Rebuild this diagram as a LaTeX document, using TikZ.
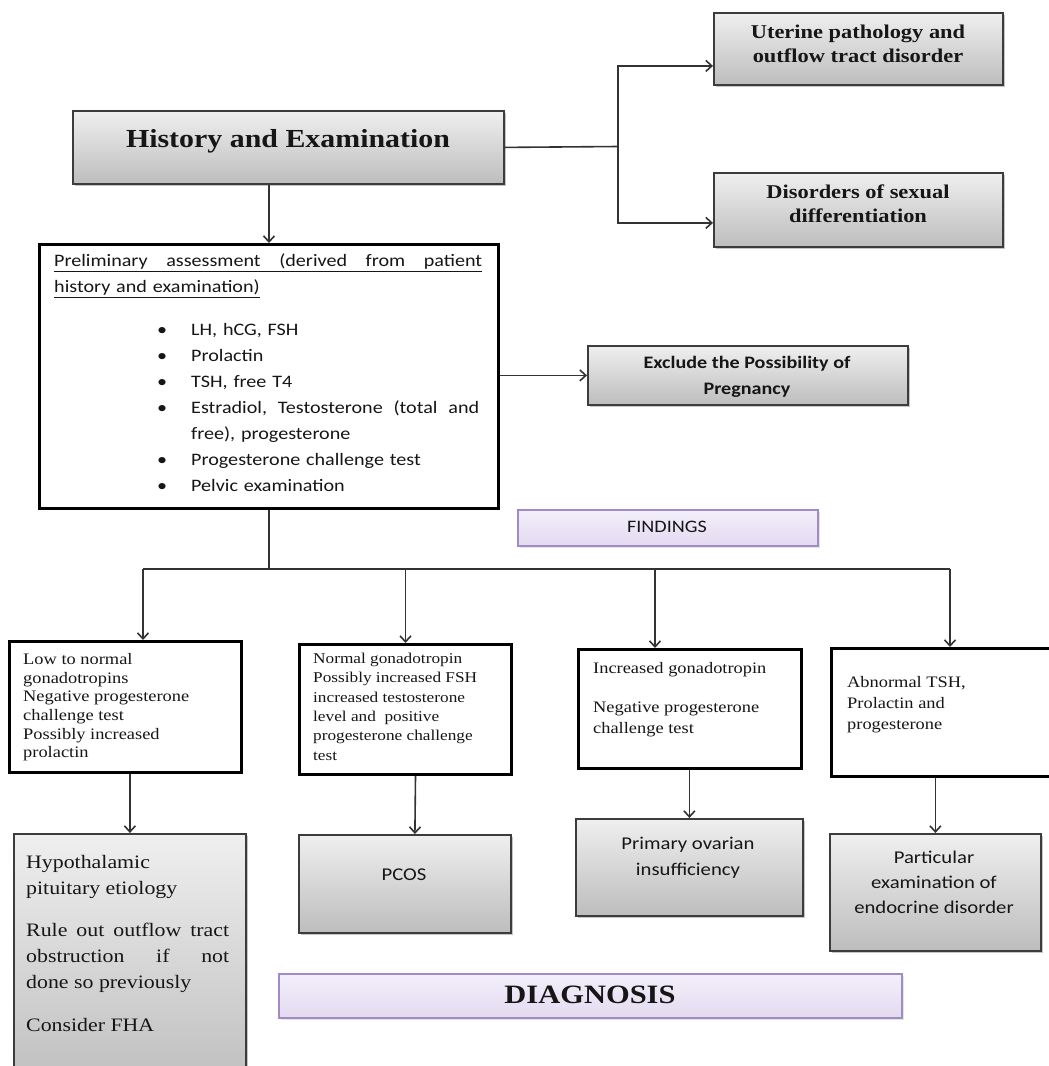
\documentclass[tikz,border=0pt]{standalone}
\usepackage{fontspec}
\setmainfont{Liberation Serif}[FakeStretch=1.15]
\newfontfamily\calfont{Carlito}[FakeStretch=1.15]
\usetikzlibrary{arrows.meta,shadows}
\definecolor{bordgray}{HTML}{3C3C3C}
\definecolor{gtop}{HTML}{EFEFEF}
\definecolor{gbot}{HTML}{BDBDBD}
\definecolor{lavtop}{HTML}{F3EFFA}
\definecolor{lavbot}{HTML}{E3D9F0}
\definecolor{lavbord}{HTML}{A08BC6}
\definecolor{connc}{HTML}{333333}
\definecolor{ink}{HTML}{161616}
\newcommand\myul[1]{\leavevmode\setbox0\hbox{#1}\rlap{\rule[-5.5pt]{\wd0}{1.3pt}}\box0}
\newcommand\bul{\leavevmode\llap{\textbullet\hspace{24pt}}}
\begin{document}
\begin{tikzpicture}[x=1pt,y=-1pt,
  boxbase/.style={anchor=north west, inner sep=0pt},
  gbox/.style={boxbase, draw=bordgray, line width=1.8pt, top color=gtop, bottom color=gbot,
    drop shadow={shadow xshift=2.5pt, shadow yshift=-2.5pt, fill=black!45}},
  wbox/.style={boxbase, draw=black, line width=3pt, fill=white},
  lbox/.style={boxbase, draw=lavbord, line width=2pt, top color=lavtop, bottom color=lavbot,
    drop shadow={shadow xshift=2pt, shadow yshift=-2pt, fill=black!20}},
  txt/.style={inner sep=0pt, text=ink},
  ln/.style={draw=connc, line width=1.6pt},
  ar/.style={ln, -{Straight Barb[length=6pt,width=11pt]}}]
\useasboundingbox (0,0) rectangle (1049,1066);
\clip (0,0) rectangle (1049,1066);
\fill[white] (0,0) rectangle (1049,1066);

% boxes
\node[gbox, minimum width=431pt, minimum height=73pt] (hist) at (72,110) {};
\node[gbox, minimum width=289pt, minimum height=72pt] (uter) at (713,12) {};
\node[gbox, minimum width=289pt, minimum height=74pt] (dis) at (713,172) {};
\node[wbox, minimum width=459pt, minimum height=264pt] (prelim) at (38,243) {};
\node[gbox, minimum width=320pt, minimum height=59pt] (excl) at (587,345) {};
\node[lbox, minimum width=300pt, minimum height=36pt] (find) at (517,509) {};
\node[wbox, minimum width=232pt, minimum height=131pt] (l1) at (8,640) {};
\node[wbox, minimum width=212pt, minimum height=130pt] (l2) at (298,643) {};
\node[wbox, minimum width=223pt, minimum height=119pt] (l3) at (577,648) {};
\node[wbox, minimum width=240pt, minimum height=128pt] (l4) at (830,647) {};
\node[gbox, minimum width=232pt, minimum height=260pt] (d1) at (13,833) {};
\node[gbox, minimum width=212pt, minimum height=98pt] (d2) at (298,834) {};
\node[gbox, minimum width=227pt, minimum height=97pt] (d3) at (575,818) {};
\node[gbox, minimum width=211pt, minimum height=117pt] (d4) at (829,833) {};
\node[lbox, minimum width=623pt, minimum height=44pt] (diag) at (278,973) {};

% texts
\node[txt, font=\bfseries\fontsize{26}{30}\selectfont] (histt) at (288,141) {History and Examination};
\node[txt, align=center, font=\bfseries\fontsize{19.5}{24}\selectfont] (utert) at (858,44) {Uterine pathology and\\outflow tract disorder};
\node[txt, align=center, font=\bfseries\fontsize{19.5}{24}\selectfont] (dist) at (858,204) {Disorders of sexual\\differentiation};
\node[txt, anchor=north west, text width=428pt, align=left, font=\calfont\fontsize{17.5}{26}\selectfont] (pret) at (54,254)
  {\myul{\hbox to 428pt{Preliminary\hfill assessment\hfill (derived\hfill from\hfill patient}}\\\myul{history and examination)}};
\node[txt, anchor=north west, text width=300pt, align=left, font=\calfont\fontsize{17.5}{26}\selectfont] (plist) at (191,323)
  {\bul LH, hCG, FSH\\\bul Prolactin\\\bul TSH, free T4\\\bul \hbox to 288pt{Estradiol,\hfill Testosterone\hfill (total\hfill and}\\free), progesterone\\\bul Progesterone challenge test\\\bul Pelvic examination};
\node[txt, align=center, font=\calfont\bfseries\fontsize{17.5}{26}\selectfont] (exclt) at (747,377) {Exclude the Possibility of\\Pregnancy};
\node[txt, font=\calfont\fontsize{17.5}{20}\selectfont] (findt) at (667,527) {FINDINGS};
\node[txt, anchor=north west, align=left, font=\fontsize{16}{18.7}\selectfont] (l1t) at (23,653)
  {Low to normal\\gonadotropins\\Negative progesterone\\challenge test\\Possibly increased\\prolactin};
\node[txt, anchor=north west, align=left, font=\fontsize{15}{19.3}\selectfont] (l2t) at (313,653)
  {Normal gonadotropin\\Possibly increased FSH\\increased testosterone\\level and~ positive\\progesterone challenge\\test};
\node[txt, anchor=north west, align=left, font=\fontsize{16}{21}\selectfont] (l3t) at (593,662)
  {Increased gonadotropin\\[18pt]Negative progesterone\\challenge test};
\node[txt, anchor=north west, align=left, font=\fontsize{16}{21}\selectfont] (l4t) at (847,676)
  {Abnormal TSH,\\Prolactin and\\progesterone};
\node[txt, anchor=north west, text width=203pt, align=justify, font=\fontsize{19}{26}\selectfont] (d1t) at (26,855)
  {Hypothalamic\\pituitary etiology\\[16pt]Rule out outflow tract\linebreak obstruction if not\linebreak done so previously\\[17pt]Consider FHA};
\node[txt, font=\calfont\fontsize{18}{25}\selectfont] (d2t) at (404,875) {PCOS};
\node[txt, align=center, font=\calfont\fontsize{18}{26}\selectfont] (d3t) at (688,858) {Primary ovarian\\insufficiency};
\node[txt, align=center, font=\calfont\fontsize{18}{25}\selectfont] (d4t) at (934,882) {Particular\\examination of\\endocrine disorder};
\node[txt, font=\bfseries\fontsize{26.5}{30}\selectfont] (diagt) at (590,995) {DIAGNOSIS};

% connectors
\coordinate (j1) at (618,146.5);
\draw[ln] (hist.east) -- (j1);
\draw[ar] (j1) |- ([yshift=-17pt]uter.west);
\draw[ar] (j1) |- ([yshift=-13pt]dis.west);
\draw[ar] (hist.south -| prelim.north) -- (prelim.north);
\draw[ar] (prelim.east |- excl.west) -- (excl.west);
\coordinate (b1) at (143,569);
\coordinate (b3) at (655,569);
\coordinate (b4) at (950,569);
\draw[ln] (prelim.south) -- (prelim.south |- b1);
\draw[ln] (b1) -- (b4);
\draw[ar] (b1) -- (b1 |- l1.north);
\draw[ar] (l2.north |- b1) -- (l2.north);
\draw[ar] (b3) -- (b3 |- l3.north);
\draw[ar] (b4) -- (b4 |- l4.north);
\draw[ar] (d1.north |- l1.south) -- (d1.north);
\draw[ar] ([xshift=10pt]l2.south) -- ([xshift=10pt]d2.north);
\draw[ar] (d3.north |- l3.south) -- (d3.north);
\draw[ar] (d4.north |- l4.south) -- (d4.north);
\end{tikzpicture}
\end{document}
